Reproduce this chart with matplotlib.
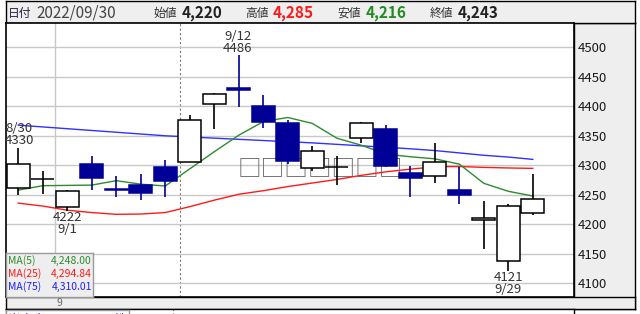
import matplotlib
matplotlib.use("Agg")
import matplotlib.pyplot as plt

plt.rcParams['font.family'] = ['Noto Sans CJK JP', 'DejaVu Sans']

# daily candles, 2022/08/30 - 2022/09/30
dates = ['8/30', '8/31', '9/1', '9/2', '9/5', '9/6', '9/7', '9/8', '9/9', '9/12', '9/13',
         '9/14', '9/15', '9/16', '9/20', '9/21', '9/22', '9/26', '9/27', '9/28', '9/29', '9/30']
opens = [4261, 4277, 4230, 4302, 4259.5, 4267, 4297, 4305, 4403, 4431, 4400,
         4372, 4295, 4297, 4347, 4361, 4287, 4282, 4259, 4208, 4138, 4220]
highs = [4330, 4291, 4258, 4315, 4282, 4285, 4309, 4386, 4423, 4486, 4419,
         4377, 4333, 4315, 4373, 4369, 4299, 4337, 4297, 4240, 4234, 4285]
lows = [4250, 4252, 4222, 4259, 4246, 4242, 4247, 4305, 4361, 4398, 4364,
        4302, 4291, 4266, 4337, 4297, 4246, 4270, 4234, 4158, 4121, 4216]
closes = [4303, 4277, 4257, 4279, 4259, 4253, 4274, 4376, 4420, 4428, 4374,
          4308, 4324, 4297, 4371, 4298, 4279, 4305, 4250, 4210, 4231, 4243]

ma5 = [4258, 4265.5, 4266, 4266.5, 4274, 4268, 4265, 4294, 4323, 4351, 4374,
       4381, 4371, 4346, 4334, 4319, 4314.5, 4311, 4302, 4269.5, 4256, 4248]
ma25 = [4236, 4231, 4224, 4220, 4217, 4217.5, 4220, 4230, 4241, 4251, 4257,
        4264, 4270, 4276, 4283, 4289, 4293.5, 4297.5, 4298, 4296.5, 4295.5, 4294.84]
ma75 = [4368, 4365, 4362, 4359, 4356, 4353, 4350, 4348, 4346, 4344, 4342,
        4340, 4338, 4335.5, 4333, 4330.5, 4328, 4325, 4321, 4317, 4314, 4310.01]

yticks = [4100, 4150, 4200, 4250, 4300, 4350, 4400, 4450, 4500]

W, H = 640, 314
NAVY = '#000096'


def px(x0, y0, x1, y1):
    return [x0 / W, 1 - y1 / H, (x1 - x0) / W, (y1 - y0) / H]


def ftext(x, y, s, **kw):
    fig.text(x / W, 1 - y / H, s, **kw)


fig = plt.figure(figsize=(6.4, 3.14), dpi=100)

# grey side panel for the price scale
side = fig.add_axes(px(574, 23, 635, 309), zorder=0)
side.set_facecolor('#eeeeee')
side.set_xticks([]); side.set_yticks([])
for s in side.spines.values():
    s.set_color('black'); s.set_linewidth(1)

ax = fig.add_axes(px(6, 23, 574, 297), zorder=2)
ax.set_facecolor('white')
x = list(range(len(dates)))

ax.set_xlim(-0.5, 22.68)
ax.set_ylim(4077, 4541)
ax.set_yticks(yticks)
ax.set_yticklabels([str(v) for v in yticks])
ax.yaxis.tick_right()
ax.tick_params(axis='y', length=0, pad=3, labelsize=9.5, labelcolor='#1a1a1a')
ax.set_xticks([])
ax.grid(axis='y', color='#c8c8c8', lw=1)
ax.set_axisbelow(True)
ax.axvline(1.5, color='#c8c8c8', lw=1, zorder=0.5)
ax.axvline(6.6, color='#777777', lw=0.8, ls=(0, (2, 2)), zorder=0.5)
for s in ax.spines.values():
    s.set_color('black'); s.set_linewidth(1.2)

# watermark rendered as missing-glyph boxes
ax.text(0.553, 0.467, '□□□□□□□', transform=ax.transAxes, ha='center', va='center',
        fontsize=17, color='#666666', zorder=1)

ax.plot(x, ma75, color='#3030ff', lw=1, zorder=2)
ax.plot(x, ma25, color='#ff1a1a', lw=1, zorder=2)
ax.plot(x, ma5, color='#2e8b2e', lw=1, zorder=2)

for i in x:
    up = closes[i] >= opens[i]
    col = 'black' if up else NAVY
    ax.vlines(i, lows[i], highs[i], color=col, lw=1.2, zorder=3)
    ax.bar(i, closes[i] - opens[i], bottom=opens[i], width=0.95,
           color='white' if up else NAVY, edgecolor=col, lw=1.1, zorder=4)

lab = dict(ha='center', va='center', fontsize=9.5, color='#333333', linespacing=0.9,
           textcoords='offset pixels', zorder=5)
ax.annotate('8/30\n4330', (0, highs[0]), xytext=(1, 13.5), **lab)
ax.annotate('9/12\n4486', (9, highs[9]), xytext=(-1, 12.5), **lab)
ax.annotate('4222\n9/1', (2, lows[2]), xytext=(0, -12), **lab)
ax.annotate('4121\n9/29', (20, lows[20]), xytext=(0, -12), **lab)

# moving average legend box
leg = fig.add_axes(px(6, 253, 93, 297), zorder=3)
leg.set_facecolor('#eeeeee')
leg.set_xticks([]); leg.set_yticks([])
for s in leg.spines.values():
    s.set_color('#999999'); s.set_linewidth(1)
rows = [('MA(5)', ma5[-1], '#2e8b2e', 261), ('MA(25)', ma25[-1], '#ff1a1a', 274),
        ('MA(75)', ma75[-1], '#2020ff', 287)]
for name, val, c, yy in rows:
    ftext(8, yy, name, fontsize=7.5, color=c, va='center', ha='left', zorder=10)
    ftext(92, yy, f'{val:,.2f}', fontsize=7.5, color=c, va='center', ha='right', zorder=10)

# header bar
head = fig.add_axes(px(6, 1, 635, 23), zorder=1)
head.set_facecolor('#efefef')
head.set_xticks([]); head.set_yticks([])
for s in head.spines.values():
    s.set_color('black'); s.set_linewidth(1)
ftext(8, 13, '日付', fontsize=8.5, color='#222244', va='center')
ftext(36, 13, '2022/09/30', fontsize=11, color='#444444', va='center')
ftext(153, 13, '始値', fontsize=8.5, color='#333333', va='center')
ftext(182, 13, '4,220', fontsize=11, color='#222222', va='center', weight='bold')
ftext(245, 13, '高値', fontsize=8.5, color='#333333', va='center')
ftext(273, 13, '4,285', fontsize=11, color='#ff1a1a', va='center', weight='bold')
ftext(337, 13, '安値', fontsize=8.5, color='#333333', va='center')
ftext(366, 13, '4,216', fontsize=11, color='#228b22', va='center', weight='bold')
ftext(430, 13, '終値', fontsize=8.5, color='#333333', va='center')
ftext(458, 13, '4,243', fontsize=11, color='#222222', va='center', weight='bold')

# month strip under the chart
strip = fig.add_axes(px(6, 297, 635, 309), zorder=1)
strip.set_facecolor('#eeeeee')
strip.set_xticks([]); strip.set_yticks([])
for s in strip.spines.values():
    s.set_color('black'); s.set_linewidth(1)
ftext(59, 303, '9', fontsize=7.5, color='#666666', va='center', ha='center')

# volume panel (only its top edge is visible)
vol = fig.add_axes(px(6, 309, 574, 320), zorder=1)
vol.set_facecolor('white')
vol.set_xticks([]); vol.set_yticks([])
for s in vol.spines.values():
    s.set_color('black'); s.set_linewidth(1)
vol.axvline(0.294, color='#777777', lw=0.8, ls=(0, (2, 2)))
vol.text(0.004, 0.1, '出来高　3,400,000株', transform=vol.transAxes, fontsize=9,
         color='#2222cc', va='center', ha='left', clip_on=True,
         bbox=dict(facecolor='white', edgecolor='#999999', lw=1, pad=1.5))

fig.savefig('out.png', dpi=100)
